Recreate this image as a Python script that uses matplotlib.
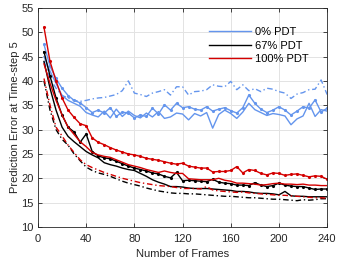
import matplotlib
matplotlib.use("Agg")
import matplotlib.pyplot as plt
from matplotlib.lines import Line2D
import numpy as np

plt.rcParams['font.family'] = ['Liberation Sans', 'DejaVu Sans']

frames = np.arange(5, 241, 5)

# 0% PDT
blue_dots = [47.5, 43, 40.5, 38.5, 37, 36, 35.5, 34.5, 33.5, 34, 33.4, 34.5, 32.7, 33.6, 33.4, 32.4,
             33, 32.7, 34.4, 33.2, 35.1, 34.0, 35.4, 34.5, 34.7, 34.2, 34, 34.7, 33.8, 34.2, 34.5, 33.9,
             33.4, 34.5, 37.1, 35.4, 34.2, 33.5, 34, 34.7, 34, 33, 33.8, 34.7, 34.4, 36.1, 33.6, 34.4]
blue_plain = [45, 42, 39.5, 37, 36, 35.4, 34.8, 33.5, 33, 32.6, 33.8, 32.4, 34.2, 32.7, 33.8, 32.9,
              32.4, 33.4, 32.6, 33.7, 32.3, 32.6, 33.4, 33.2, 32, 33.3, 32.8, 33.5, 30.3, 33.1, 34, 33.3,
              32.3, 33.6, 35.4, 34.1, 33.5, 32.9, 33.3, 33.1, 32.8, 31, 32.2, 32.8, 35.4, 32.7, 34.1, 33.8]
blue_dash = [44, 40.5, 38.5, 37, 36.5, 36, 35.8, 36, 36.3, 36.5, 36.6, 36.9, 37.2, 38.0, 40.0, 37.5,
             37.2, 36.8, 37.5, 37.8, 38.2, 37.1, 38.8, 38.8, 37.1, 37.8, 37.9, 38.2, 39.2, 38.9, 38.8, 39.9,
             38.2, 39.2, 38.0, 38.4, 37.8, 38.5, 38.3, 37.8, 37.5, 36.4, 37.3, 37.6, 38.2, 38.3, 40.2, 37.2]

# 67% PDT
black_dots = [46, 41, 36.5, 33, 30.5, 29.5, 27.4, 29.1, 25.5, 24.6, 24.2, 24.0, 23.5, 23.0, 22.5, 22.1,
              21.8, 21.5, 21.1, 20.9, 20.4, 20.1, 21.2, 19.5, 19.6, 19.5, 19.4, 19.3, 19.8, 19.2, 19.0, 18.9,
              18.6, 18.6, 18.5, 19.1, 18.6, 18.3, 18.5, 19.0, 18.6, 18.4, 18.3, 18.3, 18.0, 17.7, 17.8, 17.8]
black_plain = [44, 38.5, 34, 30.5, 28.6, 27.5, 26.5, 25.5, 24.8, 24.2, 23.2, 22.8, 22.5, 22.1, 21.8, 21.6,
               21.0, 20.4, 19.7, 19.2, 18.8, 18.3, 18.3, 18.2, 18.0, 17.9, 17.9, 17.9, 17.8, 17.7, 17.6, 17.5,
               17.3, 17.3, 17.2, 17.0, 16.9, 16.9, 16.8, 16.6, 17.3, 16.4, 16.3, 16.3, 16.2, 16.2, 16.2, 16.2]
black_dash = [40, 34, 30, 28, 26.8, 25, 23.6, 22.3, 21.6, 21.1, 20.8, 20.4, 19.9, 19.4, 19.0, 18.7,
              18.4, 18.0, 17.7, 17.4, 17.2, 17.0, 16.9, 16.9, 16.8, 16.8, 16.7, 16.6, 16.5, 16.4, 16.3, 16.3,
              16.2, 16.1, 16.0, 16.0, 15.9, 15.8, 15.7, 15.7, 15.6, 15.5, 15.4, 15.6, 15.5, 15.6, 15.8, 15.8]

# 100% PDT
red_dots = [51, 44, 40, 36.5, 34, 32.5, 31.2, 30.8, 28.3, 27.4, 26.9, 26.3, 25.8, 25.4, 25, 24.8,
            24.5, 24.1, 23.9, 23.7, 23.4, 23.1, 22.9, 23.1, 22.5, 22.3, 22.1, 22.1, 21.3, 21.4, 21.4, 21.6,
            22.4, 21.1, 21.8, 21.6, 21.0, 20.7, 21.1, 21.0, 20.6, 20.8, 20.9, 20.6, 20.3, 20.5, 20.4, 19.8]
red_plain = [43.5, 39.5, 36, 33, 30.5, 29, 27.5, 26.5, 25.3, 24.8, 24.5, 24.3, 23.8, 23.3, 22.8, 22.5,
             22.2, 21.8, 21.5, 21.2, 21.5, 21.2, 21.0, 21.0, 19.9, 19.8, 19.7, 19.7, 19.7, 20.0, 19.6, 19.4,
             19.0, 19.0, 18.9, 18.8, 18.6, 18.7, 18.9, 19.0, 18.8, 18.8, 18.7, 18.8, 18.6, 18.6, 18.5, 18.5]
red_dash = [40.5, 35, 30.5, 28.7, 26.8, 25.3, 23.8, 22.8, 22.2, 21.7, 21.2, 20.8, 20.4, 20.0, 19.7, 19.4,
            19.1, 18.9, 18.7, 18.5, 18.4, 18.3, 18.1, 17.9, 17.9, 17.9, 17.8, 18.3, 17.6, 17.4, 17.3, 17.2,
            17.1, 17.2, 17.0, 16.9, 16.8, 16.7, 16.6, 16.5, 16.5, 16.4, 16.3, 16.2, 16.1, 16.0, 16.0, 15.9]

blue = '#6495ED'
red = '#D40000'
black = 'black'

fig = plt.figure(figsize=(3.39, 2.63), dpi=100)
ax = fig.add_axes([0.112, 0.137, 0.853, 0.833])

lw = 1.0
for col, dots, plain, dash in [(blue, blue_dots, blue_plain, blue_dash),
                               (black, black_dots, black_plain, black_dash),
                               (red, red_dots, red_plain, red_dash)]:
    ax.plot(frames, dots, color=col, lw=lw, marker='.', ms=2.5)
    ax.plot(frames, plain, color=col, lw=lw)
    ax.plot(frames, dash, color=col, lw=lw, ls='-.', dashes=(4, 2, 1, 2))

ax.set_xlim(0, 240)
ax.set_ylim(10, 55)
ax.set_xticks(np.arange(0, 241, 40))
ax.set_yticks(np.arange(10, 56, 5))
ax.grid(True, color='#e3e3e3', lw=0.7)
ax.set_axisbelow(True)
ax.tick_params(direction='in', top=True, right=True, length=3, width=0.6,
               labelsize=8, colors='#262626')
ax.tick_params(axis='x', pad=5)
ax.tick_params(axis='y', pad=3)
for s in ax.spines.values():
    s.set_color('#262626')
    s.set_linewidth(0.6)

ax.set_xlabel('Number of Frames', fontsize=8, color='#262626', labelpad=4)
ax.set_ylabel('Prediction Error at Time-step 5', fontsize=8, color='#262626', labelpad=1)

handles = [Line2D([], [], color=blue, lw=lw),
           Line2D([], [], color=black, lw=lw),
           Line2D([], [], color=red, lw=lw)]
ax.legend(handles, ['0% PDT', '67% PDT', '100% PDT'], loc='upper left',
          bbox_to_anchor=(0.592, 0.912), frameon=False, fontsize=8,
          handlelength=3.8, handletextpad=0.35, labelspacing=0.3,
          borderpad=0, borderaxespad=0)

fig.savefig('out.png', dpi=100)
